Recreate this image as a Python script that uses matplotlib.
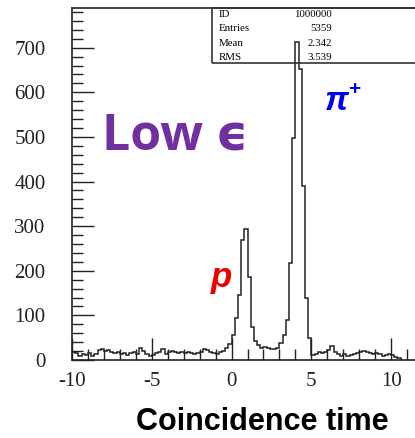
import numpy as np
import matplotlib
matplotlib.use("Agg")
import matplotlib.pyplot as plt
from matplotlib.patches import Rectangle
from matplotlib.ticker import MultipleLocator

plt.rcParams['axes.unicode_minus'] = False

# coincidence time histogram, 0.2 wide bins starting at -10
bin_lo = -10.0
bin_w = 0.2
counts = [18, 16, 9, 14, 11, 16, 10, 14, 22, 24,
          20, 23, 18, 15, 19, 13, 16, 12, 15, 18,
          14, 27, 20, 13, 9, 11, 16, 19, 24, 14,
          18, 21, 19, 16, 18, 15, 17, 16, 14, 16,
          18, 25, 22, 18, 16, 14, 17, 20, 26, 35,
          55, 95, 145, 270, 294, 186, 75, 42, 34, 28,
          30, 27, 25, 25, 26, 38, 56, 90, 217, 498,
          713, 652, 390, 139, 50, 12,
          13, 19, 15, 19, 22, 31, 19, 14, 9, 14,
          9, 11, 13, 15, 19, 21, 19, 15, 14, 15,
          13, 9, 11, 13, 12, 6, 5]

stat_names = ["ID", "Entries", "Mean", "RMS"]
stat_values = ["1000000", "5359", "2.342", "3.539"]

edges = bin_lo + bin_w * np.arange(len(counts) + 1)

W, H = 415, 438
fig = plt.figure(figsize=(W / 100, H / 100), dpi=100)
ax = fig.add_axes([72 / W, 78 / H, 351 / W, 352 / H])

ax.stairs(counts, edges, color='#222222', linewidth=1.1)

ax.set_xlim(-10, 12)
ax.set_ylim(0, 789)
ax.xaxis.set_major_locator(MultipleLocator(5))
ax.xaxis.set_minor_locator(MultipleLocator(1))
ax.yaxis.set_major_locator(MultipleLocator(100))
ax.yaxis.set_minor_locator(MultipleLocator(20))
ax.tick_params(which='both', direction='in', width=1.0, color='#222222',
               top=False, right=False)
ax.tick_params(which='major', length=16)
ax.tick_params(which='minor', length=8)
ax.tick_params(axis='y', pad=19)
ax.tick_params(axis='x', pad=9)
for lab in ax.get_xticklabels() + ax.get_yticklabels():
    lab.set_fontfamily('Liberation Serif')
    lab.set_fontsize(15)
    lab.set_color('#222222')
for s in ax.spines.values():
    s.set_linewidth(1.2)
    s.set_color('#222222')
ax.spines['right'].set_visible(False)

# stats box in the top right corner
fig.add_artist(Rectangle((212 / W, 1 - 63 / H), 220 / W, 55 / H,
                         transform=fig.transFigure, fill=False,
                         edgecolor='#333333', linewidth=1.2))
for i, (n, v) in enumerate(zip(stat_names, stat_values)):
    y = 1 - (14.5 + 14.3 * i) / H
    fig.text(219 / W, y, n, family='Liberation Serif', fontsize=7.8,
             va='center', ha='left')
    fig.text(332 / W, y, v, family='Liberation Serif', fontsize=7.8,
             va='center', ha='right')

fig.text(262 / W, 1 - 422 / H, "Coincidence time", family='Liberation Sans',
         weight='bold', fontsize=22, ha='center', va='center')

fig.text(102 / W, 1 - 136 / H, "Low ϵ", family=['Open Sans', 'DejaVu Sans'],
         weight='bold', fontsize=36, color='#7030A0', ha='left', va='center')

fig.text(325 / W, 1 - 101 / H, "π", family='Liberation Sans', weight='bold',
         style='italic', fontsize=24, color='#0000EE', ha='left', va='center')
fig.text(348 / W, 1 - 90 / H, "+", family='Liberation Sans', weight='bold',
         fontsize=15, color='#0000EE', ha='left', va='center')
fig.text(211 / W, 1 - 278 / H, "p", family='Liberation Sans', weight='bold',
         style='italic', fontsize=25, color='#EE0000', ha='left', va='center')

fig.savefig("out.png", dpi=100)
